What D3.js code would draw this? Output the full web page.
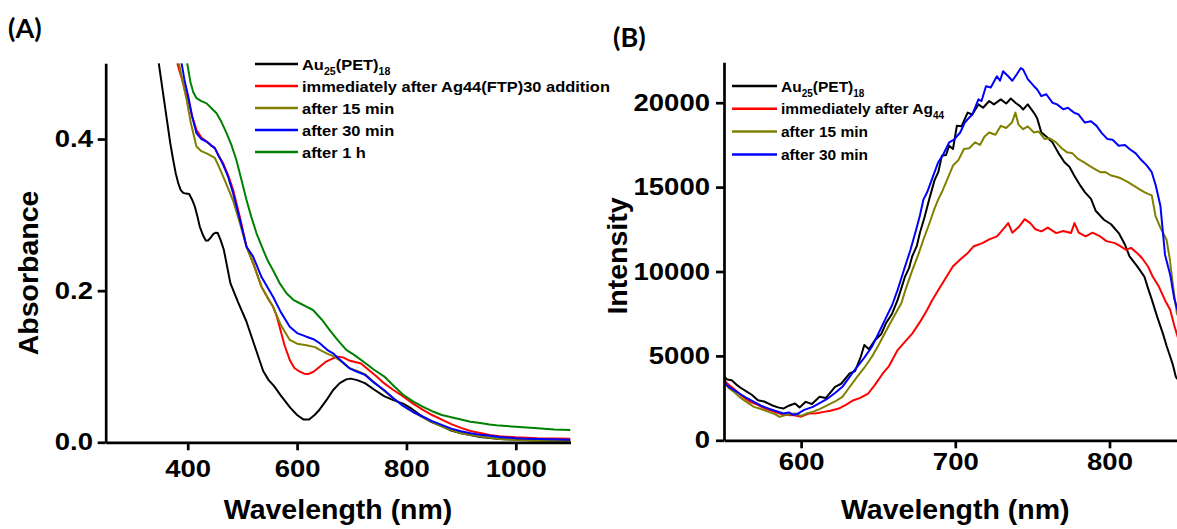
<!DOCTYPE html>
<html><head><meta charset="utf-8">
<script src="https://cdn.jsdelivr.net/npm/d3@7"></script>
<style>body{margin:0;background:#fff;overflow:hidden}svg{display:block}</style>
</head><body>
<svg id="c" width="1177" height="529"></svg>
<script>
// ---------------- DATA ----------------
// Panel A: UV-vis absorbance, [wavelength nm, absorbance]
const absAu = [[347,0.5],[355,0.46],[361,0.43],[368,0.395],[373.5,0.372],[378,0.355],[382.6,0.342],[387,0.333],[391.7,0.329],[397,0.328],[402.7,0.3275],[408,0.32],[413,0.311],[418,0.297],[422,0.2845],[428,0.273],[433,0.266],[437,0.266],[442,0.27],[447,0.275],[451.5,0.2765],[455,0.276],[460,0.267],[466,0.254],[478,0.21],[492,0.185],[507,0.16],[522,0.128],[538,0.094],[548,0.082],[558,0.074],[570,0.062],[587,0.046],[600,0.036],[612,0.030],[622,0.030],[632,0.036],[641,0.043],[655,0.057],[666,0.069],[678,0.078],[690,0.083],[698,0.084],[710,0.082],[724,0.078],[740,0.07],[759,0.061],[775,0.056],[794,0.051],[810,0.044],[829,0.034],[845,0.027],[865,0.021],[880,0.016],[900,0.012],[935,0.007],[970,0.0044],[1000,0.0035],[1040,0.0026],[1100,0.0018]];
const absImmediate = [[381,0.5],[386,0.487],[391.7,0.4736],[396,0.462],[401,0.4516],[408,0.43],[416,0.412],[425,0.402],[434.5,0.3966],[442,0.392],[449.6,0.388],[455,0.38],[464.8,0.368],[474,0.352],[483,0.333],[495,0.298],[507.5,0.258],[520,0.236],[535,0.205],[549,0.187],[556,0.179],[562,0.168],[568,0.1525],[577,0.128],[586.6,0.1086],[595,0.098],[605,0.0931],[613,0.0905],[620,0.090],[630,0.093],[641.4,0.0997],[652,0.106],[665.7,0.1108],[675,0.113],[684,0.112],[695,0.108],[706,0.106],[717,0.104],[730,0.096],[745,0.087],[759,0.078],[776,0.069],[794,0.0605],[812,0.051],[829.5,0.043],[847,0.036],[864.6,0.030],[882,0.024],[899.7,0.019],[917,0.015],[934.8,0.0123],[952,0.0098],[970,0.0079],[1000,0.0065],[1040,0.0053],[1100,0.0048]];
const abs15 = [[384,0.5],[390,0.478],[398,0.4516],[406,0.42],[416,0.39],[425,0.384],[434.5,0.381],[442,0.378],[449.6,0.375],[458,0.362],[468,0.345],[483,0.3186],[495,0.29],[507.5,0.258],[519.6,0.236],[535,0.205],[549,0.187],[556,0.179],[570,0.155],[586.6,0.135],[600,0.13],[617,0.128],[633,0.1255],[641.4,0.1218],[655,0.117],[668,0.113],[680,0.107],[695,0.098],[710,0.094],[724,0.09],[740,0.08],[759,0.068],[776,0.058],[794,0.048],[812,0.04],[829.5,0.033],[847,0.027],[864.6,0.021],[882,0.016],[899.7,0.012],[935,0.0075],[970,0.0045],[1000,0.003],[1040,0.002],[1100,0.0015]];
const abs30 = [[388.8,0.5],[394,0.478],[401,0.456],[408,0.43],[416,0.4077],[425,0.40],[434.5,0.3966],[442,0.392],[449.6,0.388],[455,0.38],[464.8,0.366],[474,0.35],[483,0.3285],[495,0.295],[507.5,0.258],[519.6,0.245],[535,0.218],[556,0.192],[570,0.172],[586.6,0.1525],[600,0.144],[617,0.1393],[630,0.136],[641.4,0.1306],[655,0.122],[665.7,0.1174],[680,0.108],[696,0.0976],[710,0.093],[724,0.089],[740,0.079],[759,0.069],[776,0.058],[794,0.048],[812,0.04],[829.5,0.034],[847,0.028],[864.6,0.023],[882,0.018],[899.7,0.0145],[917,0.012],[934.8,0.010],[952,0.0085],[970,0.007],[1000,0.0055],[1040,0.0044],[1100,0.0035]];
const abs1h = [[399,0.5],[405,0.475],[410,0.462],[416,0.4538],[425,0.45],[434.5,0.447],[443,0.441],[452.7,0.434],[462,0.422],[471,0.4077],[480,0.392],[489,0.3724],[498,0.347],[507.5,0.3197],[516,0.298],[525.8,0.2757],[538,0.2537],[546,0.24],[556,0.227],[568,0.21],[580.6,0.1966],[593,0.188],[605,0.1834],[617,0.179],[629,0.1745],[645,0.162],[659.7,0.148],[675,0.134],[690,0.1218],[705,0.115],[724,0.105],[740,0.096],[759,0.087],[776,0.075],[794,0.0627],[812,0.054],[829.5,0.047],[847,0.041],[864.6,0.036],[882,0.033],[899.7,0.030],[917,0.027],[934.8,0.0254],[952,0.0235],[970,0.022],[1000,0.0205],[1040,0.0184],[1070,0.017],[1100,0.0162]];

// Panel B: photoluminescence, [wavelength nm, intensity]
const plAu = [[550,3800],[552,3600],[555,3560],[558,3300],[561,3100],[565,2870],[568,2700],[572,2376],[576,2300],[581,2080],[585,1950],[588.5,1880],[592,2050],[596,2180],[599,1950],[603,2277],[607,2150],[612,2574],[616,2500],[622,3168],[626,3350],[631.5,3960],[635,4100],[638.7,4950],[641,5643],[644,5400],[648,5940],[652,6300],[655,6930],[659,7500],[662.6,8316],[665,9000],[667.4,9700],[670,10200],[672,10890],[675,11500],[677,12276],[680,13200],[683,14256],[686.5,15400],[689,15900],[691.3,16864],[694,16900],[696,17450],[698.5,17256],[701,18628],[704,18600],[708,19412],[711,19300],[715,19900],[718,19700],[722,20100],[725,19900],[729.5,20196],[733,19950],[736,20250],[739,20000],[742,19800],[744,19600],[747,19900],[751,19400],[753,19100],[755.8,18236],[759,18000],[763,17650],[767,17000],[770.8,16470],[774,16200],[777,15700],[781,15100],[784,14700],[788,14300],[791,13600],[796.4,13068],[801,12800],[806,12276],[810,11600],[813,10890],[818,10300],[822.6,9700],[825,9000],[827.5,8316],[831,7300],[834.6,6336],[837,5600],[839.4,4950],[841,4500],[843,3760],[846,3400]];
const plImmediate = [[550,3564],[553,3300],[557.5,2970],[562,2600],[567,2277],[572,2100],[576.6,1880],[581,1750],[586,1584],[590,1500],[595.7,1485],[600,1400],[605,1584],[610,1600],[614.8,1683],[619,1750],[624.4,1880],[629,2100],[634,2376],[638,2500],[643.5,2772],[648,3300],[653,3960],[657,4400],[662.6,5346],[667,5800],[672.2,6336],[677,7000],[681.7,7722],[685,8300],[689,8910],[693,9500],[698.4,10296],[703,10700],[708,11088],[712,11500],[717.6,11682],[722,11900],[727,12078],[731,12500],[734.3,12870],[737,12300],[741.5,12672],[745,13100],[748.6,12870],[752,12500],[755.8,12375],[760,12600],[765.4,12276],[770,12400],[775,12276],[777.3,12870],[780,12300],[784.5,12078],[789,12300],[794,12078],[798,11800],[803.6,11682],[807,11500],[810.8,11286],[814,11400],[818,11088],[821,10800],[825,10296],[828,9700],[832,9108],[836,8300],[839.4,7722],[842,6800],[846,5600]];
const pl15 = [[550,3465],[553,3100],[556,2900],[560,2574],[565,2250],[569.4,1980],[574,1850],[579,1683],[583,1550],[586,1386],[590,1500],[595.7,1584],[600,1450],[604,1600],[607.6,1683],[612,1850],[617.2,2079],[622,2300],[626.8,2574],[631,3100],[636.3,3762],[641,4300],[645.9,4950],[650,5600],[655.4,6534],[660,7300],[665,8118],[668,9000],[672.2,10098],[676,11000],[679.3,11880],[683,12800],[686,13600],[688.9,14256],[691.3,14708],[695,15500],[698.5,16276],[702,16600],[705.6,17256],[709,17300],[712.8,17652],[716,17500],[719,18000],[722,18236],[726,18100],[729.5,18628],[733,18500],[736.7,18824],[739,19412],[741,18700],[744,18432],[747,18600],[751,18236],[754,18300],[758,17848],[761,17900],[765.3,17652],[769,17300],[772.5,17060],[776,17000],[779.6,16668],[783,16500],[786.8,16276],[790,16100],[794,15884],[797,15900],[801,15688],[805,15600],[808,15492],[812,15300],[815.4,15100],[819,14900],[822.6,14708],[825,14600],[827.4,14512],[829.9,13266],[833,12600],[837,11880],[839,10800],[841.8,8712],[843.7,7524],[846,7000]];
const pl30 = [[550,3564],[551.5,3300],[553,3168],[556,3000],[560,2772],[564,2550],[569.4,2277],[574,2050],[579,1880],[583,1750],[588.5,1584],[592,1650],[595,1500],[598,1584],[602,1800],[607.6,1980],[612,2200],[617.2,2475],[622,2800],[626.8,3168],[631,3700],[636.3,4356],[641,4900],[645.9,5544],[650,6300],[655.4,7326],[659,8000],[662.6,8910],[665,9600],[667.4,10296],[671,11300],[674.6,12474],[677,13300],[679.3,14256],[681.8,14708],[685,15500],[688.9,16472],[692,16900],[696,17648],[699,17800],[703.2,18236],[706,18800],[708,19020],[711,19300],[715,20196],[717,20100],[719.9,20980],[723,20900],[727,21568],[729,21300],[731,21862],[734.3,21568],[737,21300],[740,21700],[742.5,22058],[744,21960],[747,21400],[751,20980],[753,20800],[755.8,20392],[759,20500],[763,20000],[766,19900],[770,19608],[773,19700],[777,19412],[780,19300],[784,18824],[788,18900],[791.6,18628],[795,18200],[798.7,17844],[802,17800],[806,17452],[810,17500],[813,17256],[817,17000],[820,16668],[824,16300],[827.4,15884],[830,15100],[833,13900],[836,11000],[839.4,9800],[842,8400],[846,7100]];

// Tick values
const ticksAx = [400, 600, 800, 1000];
const ticksAy = [0.0, 0.2, 0.4];
const ticksBx = [600, 700, 800];
const ticksBy = [0, 5000, 10000, 15000, 20000];

// Legend entries
const seriesA = [
  {name: "Au25(PET)18", data: absAu, color: "#000000"},
  {name: "immediately after Ag44(FTP)30 addition", data: absImmediate, color: "#ff0000"},
  {name: "after 15 min", data: abs15, color: "#808000"},
  {name: "after 30 min", data: abs30, color: "#0000ff"},
  {name: "after 1 h", data: abs1h, color: "#008000"}
];
const seriesB = [
  {name: "Au25(PET)18", data: plAu, color: "#000000"},
  {name: "immediately after Ag44", data: plImmediate, color: "#ff0000"},
  {name: "after 15 min", data: pl15, color: "#808000"},
  {name: "after 30 min", data: pl30, color: "#0000ff"}
];

// ---------------- DRAW ----------------
const svg = d3.select("#c");
const FONT = "'Liberation Sans', Arial, Helvetica, sans-serif";
const TICK_SX = 1.17;

function styleAxis(g) {
  g.selectAll("path.domain").attr("stroke", "#000").attr("stroke-width", 2.7);
  g.selectAll(".tick line").attr("stroke", "#000").attr("stroke-width", 2.7);
  g.selectAll(".tick text").attr("fill", "#000").attr("font-family", FONT)
    .attr("font-weight", "bold").attr("font-size", 23.5)
    .attr("transform", `scale(${TICK_SX},1)`);
}

function legendText(sel, name) {
  const parts = [];
  if (name === "Au25(PET)18") {
    parts.push(["Au", false], ["25", true], ["(PET)", false], ["18", true]);
  } else if (name === "immediately after Ag44") {
    parts.push(["immediately after Ag", false], ["44", true]);
  } else {
    parts.push([name, false]);
  }
  let prevSub = false;
  parts.forEach(([t, sub]) => {
    const ts = sel.append("tspan").text(t);
    if (sub && !prevSub) ts.attr("dy", 5);
    else if (!sub && prevSub) ts.attr("dy", -5);
    if (sub) ts.attr("font-size", 10);
    prevSub = sub;
  });
}

function drawPanel(cfg) {
  const x = d3.scaleLinear().domain(cfg.xDomain).range(cfg.xRange);
  const y = d3.scaleLinear().domain(cfg.yDomain).range(cfg.yRange);
  const line = d3.line().x(d => x(d[0])).y(d => y(d[1]));

  const clipId = "clip" + cfg.id;
  svg.append("clipPath").attr("id", clipId).append("rect")
    .attr("x", cfg.xRange[0]).attr("y", cfg.yRange[1])
    .attr("width", cfg.xRange[1] - cfg.xRange[0]).attr("height", cfg.yRange[0] - cfg.yRange[1]);

  const gl = svg.append("g").attr("clip-path", `url(#${clipId})`);
  cfg.series.forEach(s => {
    gl.append("path").datum(s.data).attr("d", line)
      .attr("fill", "none").attr("stroke", s.color).attr("stroke-width", cfg.lw)
      .attr("stroke-linejoin", "round");
  });

  const gx = svg.append("g").attr("transform", `translate(0,${cfg.yRange[0]})`)
    .call(d3.axisBottom(x).tickValues(cfg.xTicks).tickSize(8).tickSizeOuter(0)
      .tickPadding(cfg.xPad).tickFormat(d3.format("d")));
  styleAxis(gx);
  const gy = svg.append("g").attr("transform", `translate(${cfg.xRange[0]},0)`)
    .call(d3.axisLeft(y).tickValues(cfg.yTicks).tickSize(8).tickSizeOuter(0)
      .tickPadding(cfg.yPad).tickFormat(cfg.yFmt));
  styleAxis(gy);

  // legend
  cfg.series.forEach((s, i) => {
    const ly = cfg.legY + i * cfg.legStep;
    svg.append("line").attr("x1", cfg.legX).attr("x2", cfg.legX + cfg.legLen)
      .attr("y1", ly).attr("y2", ly).attr("stroke", s.color).attr("stroke-width", 2.5);
    const t = svg.append("g")
      .attr("transform", `translate(${cfg.legX + cfg.legLen + 4},${ly + 5.5}) scale(${cfg.legSx},1)`)
      .append("text")
      .attr("font-family", FONT).attr("font-weight", "bold").attr("font-size", cfg.legFs)
      .attr("fill", "#000");
    legendText(t, s.name);
  });

  // axis titles
  svg.append("text").attr("x", (cfg.xRange[0] + cfg.xRange[1]) / 2).attr("y", 519)
    .attr("text-anchor", "middle").attr("font-family", FONT).attr("font-weight", "bold")
    .attr("font-size", 28.5).text("Wavelength (nm)");
  svg.append("text").attr("transform", `translate(${cfg.yTitleX},${cfg.yTitleY}) rotate(-90)`)
    .attr("text-anchor", "middle").attr("font-family", FONT).attr("font-weight", "bold")
    .attr("font-size", 28.5).text(cfg.yTitle);

  // panel label
  svg.append("text").attr("x", cfg.labX).attr("y", cfg.labY)
    .attr("font-family", "Lato, 'Open Sans', sans-serif").attr("font-weight", "bold")
    .attr("font-size", 27).text(cfg.label);
}

drawPanel({
  id: "A", series: seriesA,
  xDomain: [250, 1100], xRange: [105.7, 570.5],
  yDomain: [0, 0.5], yRange: [442.3, 63.2],
  xTicks: ticksAx, yTicks: ticksAy, yFmt: d3.format(".1f"),
  xPad: 10, yPad: 2.9, lw: 2,
  legX: 255, legY: 64, legStep: 22, legLen: 43, legFs: 15.5, legSx: 1.06,
  yTitle: "Absorbance", yTitleX: 38, yTitleY: 273,
  label: "(A)", labX: 8, labY: 38
});

drawPanel({
  id: "B", series: seriesB,
  xDomain: [550, 850], xRange: [724, 1186.6],
  yDomain: [0, 22400], yRange: [440.3, 62.2],
  xTicks: ticksBx, yTicks: ticksBy, yFmt: d3.format("d"),
  xPad: 5, yPad: 4, lw: 2,
  legX: 732, legY: 86, legStep: 22.8, legLen: 45, legFs: 15.5, legSx: 1.0,
  yTitle: "Intensity", yTitleX: 627, yTitleY: 256,
  label: "(B)", labX: 613, labY: 47
});
</script>
</body></html>
